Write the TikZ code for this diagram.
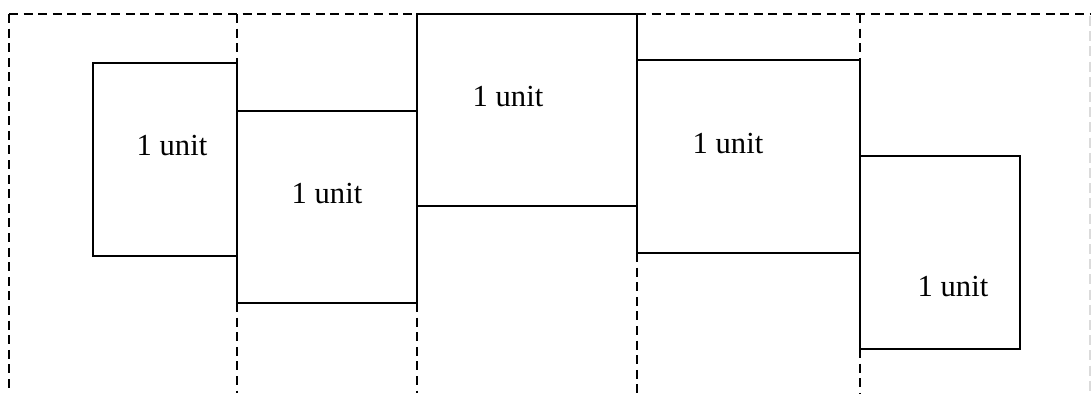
\documentclass[tikz,border=0pt]{standalone}
\usepackage{fontspec}
\setmainfont{Liberation Serif}
\begin{document}
\begin{tikzpicture}[x=0.5pt,y=-0.5pt,
  box/.style={draw=black,line width=1pt,inner sep=0pt,outer sep=0pt,anchor=north west},
  dsh/.style={draw=black,line width=1.1pt,dash pattern=on 4.5pt off 2.8pt},
  faint/.style={draw=black!14,line width=0.8pt,dash pattern=on 5pt off 2.6pt},
  lbl/.style={anchor=base,inner sep=0pt,font=\fontsize{15.3}{18}\selectfont}]
\useasboundingbox (0,0) rectangle (1091,393);
\fill[white] (0,0) rectangle (1091,393);
\node[box,minimum width=72pt,minimum height=96.5pt] (b1) at (93,63) {};
\node[box,minimum width=90pt,minimum height=96pt] (b2) at (237,111) {};
\node[box,minimum width=110pt,minimum height=96pt] (b3) at (417,14) {};
\node[box,minimum width=111.5pt,minimum height=96.5pt] (b4) at (637,60) {};
\node[box,minimum width=80pt,minimum height=96.5pt] (b5) at (860,156) {};
\coordinate (tl) at (9,14);
\coordinate (bl) at (9,393);
\coordinate (tr) at (1091,14);
\coordinate (t1) at (237,14);
\coordinate (t4) at (860,14);
\coordinate (d2) at (237,393);
\coordinate (d3) at (417,393);
\coordinate (d4) at (637,393);
\coordinate (d5) at (860,393);
\coordinate (rt) at (1090,16);
\coordinate (rb) at (1090,393);
\draw[dsh] (tl) -- (b3.north west);
\draw[dsh] (b3.north east) -- (tr);
\draw[dsh] (tl) -- (bl);
\draw[dsh] (t1) -- (b1.north east);
\draw[dsh] (b2.south west) -- (d2);
\draw[dsh] (b2.south east) -- (d3);
\draw[dsh] (b4.south west) -- (d4);
\draw[dsh] (t4) -- (b4.north east);
\draw[dsh] (b5.south west) -- (d5);
\draw[faint] (rt) -- (rb);
\node[lbl] (l1) at (172,155) {1 unit};
\node[lbl] (l2) at (327,203) {1 unit};
\node[lbl] (l3) at (508,106.5) {1 unit};
\node[lbl] (l4) at (728,153) {1 unit};
\node[lbl] (l5) at (953,296) {1 unit};
\end{tikzpicture}
\end{document}
